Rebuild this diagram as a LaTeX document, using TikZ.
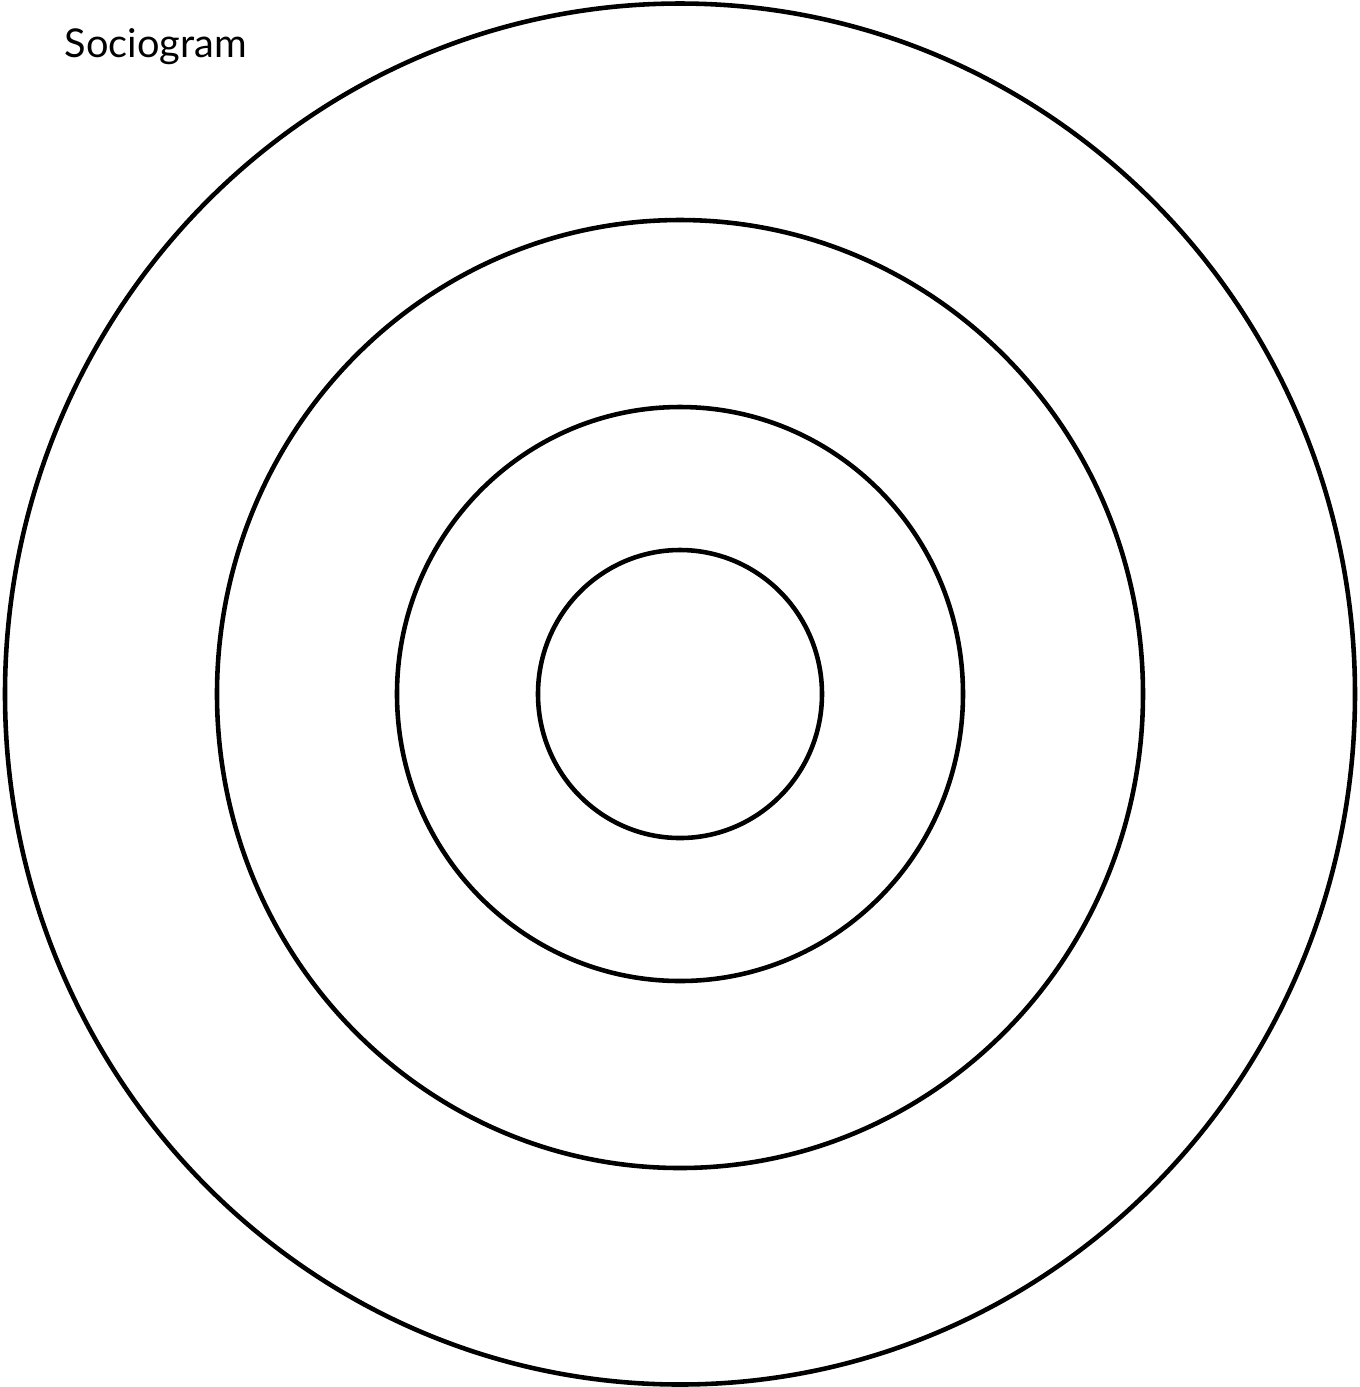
\documentclass[tikz,border=0pt]{standalone}
\usepackage{fontspec}
\setmainfont{Lato}
\usetikzlibrary{positioning}

\begin{document}
\begin{tikzpicture}[
  ring/.style={draw=black, line width=1.3pt},
  caption/.style={font=\fontsize{11.3}{13}\selectfont, inner sep=0pt, anchor=base west},
]
\useasboundingbox (0,0) rectangle (13.60,-13.87);
\coordinate (mid) at (6.80,-6.94);
% rings, outside in
\draw[ring] (mid) ellipse [x radius=6.75, y radius=6.905];
\draw[ring] (mid) ellipse [x radius=4.63, y radius=4.74];
\draw[ring] (mid) ellipse [x radius=2.83, y radius=2.87];
\draw[ring] (mid) ellipse [x radius=1.42, y radius=1.44];
\node[caption] (title) at (0.64,-0.57) {Sociogram};
\end{tikzpicture}
\end{document}
